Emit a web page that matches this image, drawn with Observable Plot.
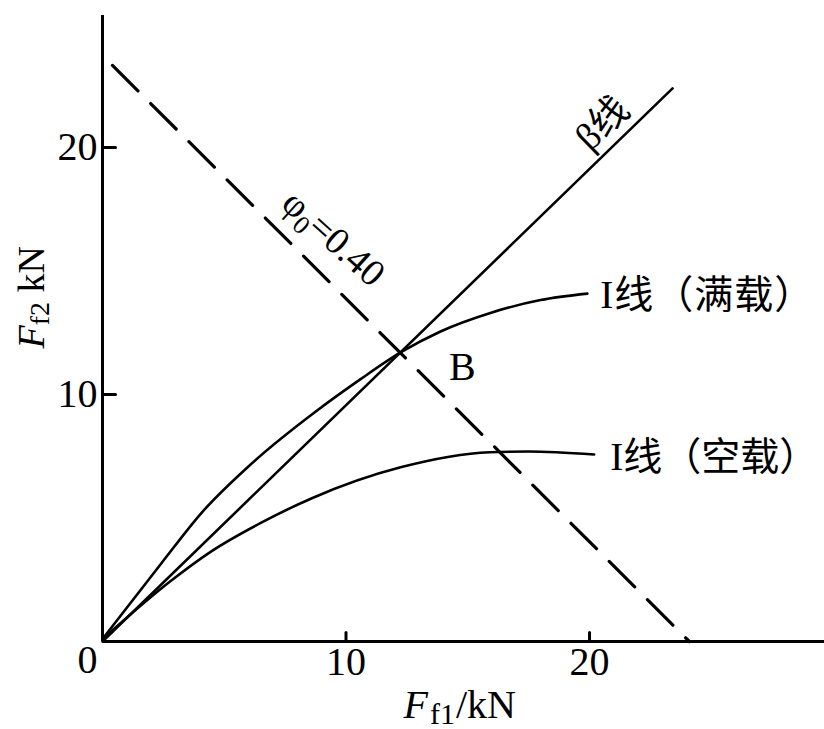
<!DOCTYPE html>
<html>
<head>
<meta charset="utf-8">
<script src="https://cdn.jsdelivr.net/npm/d3@7"></script>
<script src="https://cdn.jsdelivr.net/npm/@observablehq/plot@0.6"></script>
<style>
  html, body { margin: 0; padding: 0; background: #fff; }
  #chart svg { display: block; }
</style>
</head>
<body>
<div id="chart"></div>
<script>
// ---- data (kN) ----
const xTicks = [10, 20];
const yTicks = [10, 20];
const originLabel = ["0"];

// I line, full load (满载)
const fullLoadX = [0, 2.42, 4.06, 6.1, 8.84, 10.6, 12.24, 13.88, 15.93, 17.99, 19.91];
const fullLoadY = [0.1, 3.17, 5.2, 7.18, 9.37, 10.62, 11.7, 12.55, 13.3, 13.82, 14.08];

// I line, empty load (空载)
const emptyLoadX = [0, 2.8, 4.5, 6.5, 8.6, 12.24, 15.9, 17.5, 20.19];
const emptyLoadY = [0.1, 2.45, 3.67, 4.8, 5.8, 7.05, 7.66, 7.69, 7.57];

// β line
const betaX = [0, 23.41];
const betaY = [0, 22.39];

// φ0 = 0.40 line
const phiX = [0.41, 24.1];
const phiY = [23.32, 0];

const fullLoadLabel = "I线（满载）";
const emptyLoadLabel = "I线（空载）";
const betaLabel = "β线";
const phiLabel = "φ0=0.40";
const pointLabel = "B";
const xTitle = "Ff1/kN";
const yTitle = "Ff2 kN";

// ---- build ----
const zip = (xs, ys) => xs.map((x, i) => ({x, y: ys[i]}));
const full = zip(fullLoadX, fullLoadY);
const empty = zip(emptyLoadX, emptyLoadY);
const beta = zip(betaX, betaY);
const phi = zip(phiX, phiY);
const fullEnd = full[full.length - 1];
const emptyEnd = empty[empty.length - 1];

const serif = "'Liberation Serif', 'DejaVu Serif', serif";
const cjk = "'Liberation Serif', 'Noto Sans CJK SC', sans-serif";
const tickShape = {draw(ctx, l) { ctx.moveTo(0, 0); ctx.lineTo(0, -l); }};

const xMax = 29.65, yMax = 25.34;

const chart = Plot.plot({
  width: 824,
  height: 729,
  marginLeft: 102,
  marginRight: 0,
  marginTop: 15,
  marginBottom: 88,
  x: {domain: [0, xMax], axis: null},
  y: {domain: [0, yMax], axis: null},
  style: {background: "white", fontFamily: serif, color: "black", overflow: "visible"},
  marks: [
    Plot.ruleX([0], {stroke: "black", strokeWidth: 3}),
    Plot.ruleY([0], {stroke: "black", strokeWidth: 3}),
    Plot.vector(yTicks, {x: 0, y: d => d, length: 13, rotate: 90, anchor: "start", shape: tickShape, stroke: "black", strokeWidth: 3}),
    Plot.vector(xTicks, {x: d => d, y: 0, length: 9, rotate: 0, anchor: "start", shape: tickShape, stroke: "black", strokeWidth: 3}),
    Plot.text(yTicks, {x: 0, y: d => d, text: d => String(d), textAnchor: "end", dx: -5, fontSize: 40, fontFamily: serif}),
    Plot.text(xTicks, {x: d => d, y: 0, text: d => String(d), dy: 21, fontSize: 40, fontFamily: serif}),
    Plot.text(originLabel, {x: 0, y: 0, text: d => d, dx: -15, dy: 19, fontSize: 40, fontFamily: serif}),

    Plot.line(phi, {x: "x", y: "y", stroke: "black", strokeWidth: 3.2, strokeDasharray: "36,18"}),
    Plot.line(beta, {x: "x", y: "y", stroke: "black", strokeWidth: 2.6}),
    Plot.line(full, {x: "x", y: "y", curve: "monotone-x", stroke: "black", strokeWidth: 2.6}),
    Plot.line(empty, {x: "x", y: "y", curve: "monotone-x", stroke: "black", strokeWidth: 2.6}),

    Plot.text([fullLoadLabel], {x: fullEnd.x, y: fullEnd.y, text: d => d, textAnchor: "start", dx: 13, dy: 2, fontSize: 39, fontFamily: cjk}),
    Plot.text([emptyLoadLabel], {x: emptyEnd.x, y: emptyEnd.y, text: d => d, textAnchor: "start", dx: 16, dy: 3, fontSize: 39, fontFamily: cjk}),
    Plot.text([betaLabel], {x: 20.53, y: 20.97, text: d => d, rotate: -44, fontSize: 38, fontFamily: cjk}),
    Plot.text([phiLabel], {x: 9.49, y: 16.32, text: d => d, rotate: 42, fontSize: 38, fontFamily: serif}),
    Plot.text([pointLabel], {x: 14.78, y: 11.09, text: d => d, fontSize: 40, fontFamily: serif}),
    Plot.text([xTitle], {x: 12.36, y: -2.59, text: d => d, textAnchor: "start", fontSize: 40, fontFamily: serif}),
    Plot.text([yTitle], {x: -2.92, y: 11.86, text: d => d, textAnchor: "start", rotate: -90, fontSize: 38, fontFamily: serif})
  ]
});

// rich text (italic letters, subscripts)
const NS = "http://www.w3.org/2000/svg";
function rich(el, parts) {
  el.textContent = "";
  for (const p of parts) {
    const ts = document.createElementNS(NS, "tspan");
    ts.textContent = p.t;
    if (p.italic) ts.setAttribute("font-style", "italic");
    if (p.size) ts.setAttribute("font-size", p.size);
    if (p.dy) ts.setAttribute("dy", p.dy);
    if (p.dx) ts.setAttribute("dx", p.dx);
    el.appendChild(ts);
  }
}
chart.querySelectorAll("text").forEach(t => {
  const s = t.textContent;
  if (s === xTitle) rich(t, [{t: "F", italic: true}, {t: "f1", size: 30, dy: 6, dx: 2}, {t: "/kN", dy: -6, dx: 1}]);
  else if (s === yTitle) rich(t, [{t: "F", italic: true}, {t: "f2", size: 28, dy: 5}, {t: " kN", dy: -5}]);
  else if (s === phiLabel) rich(t, [{t: "φ"}, {t: "0", size: 26, dy: 8}, {t: "=0.40", dy: -8}]);
  else if (s === fullLoadLabel) t.setAttribute("letter-spacing", "1");
});

document.getElementById("chart").appendChild(chart);
</script>
</body>
</html>
